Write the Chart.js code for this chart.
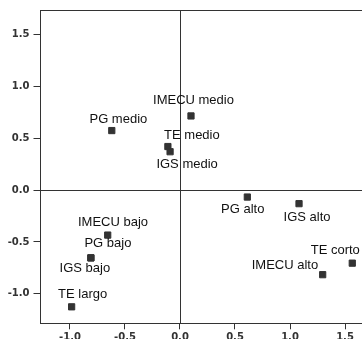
<!DOCTYPE html>
<html>
<head>
<meta charset="utf-8">
<script src="https://cdn.jsdelivr.net/npm/chart.js@4/dist/chart.umd.min.js"></script>
<style>
html,body{margin:0;padding:0;background:#fff;overflow:hidden;}
#wrap{width:400px;height:360px;}
</style>
</head>
<body>
<div id="wrap"><canvas id="c" width="400" height="360"></canvas></div>
<script>
// ---- data ----
const pointLabels = ['IMECU medio','PG medio','TE medio','IGS medio','IMECU bajo','PG bajo','IGS bajo','TE largo','PG alto','IGS alto','TE corto','IMECU alto'];
const dim1 = [0.10,-0.62,-0.11,-0.09,-0.657,-0.81,-0.81,-0.985,0.612,1.082,1.566,1.297];
const dim2 = [0.715,0.574,0.42,0.37,-0.434,-0.654,-0.654,-1.126,-0.067,-0.131,-0.705,-0.816];
const xTickValues = [-1.0,-0.5,0.0,0.5,1.0,1.5];
const yTickValues = [-1.0,-0.5,0.0,0.5,1.0,1.5];

// label placement (pixel offsets from each marker)
const labelDx = [2.5,6.6,24,17,5.3,17,-6,11,-4.6,8,-17,-37.7];
const labelDy = [-16,-11,-11.5,12.5,-12.3,-14,11,-12,12,13.5,-13,-9];

const points = dim1.map((x,i)=>({x:x,y:dim2[i]}));

const framePlugin = {
  id:'frame',
  beforeDatasetsDraw(chart){
    const {ctx, chartArea:a, scales} = chart;
    ctx.save();
    ctx.strokeStyle = '#333';
    ctx.lineWidth = 1;
    const L = Math.round(a.left)+0.5, T = Math.round(a.top)+0.5, R = Math.round(a.right)+0.5, B = Math.round(a.bottom)+0.5;
    ctx.strokeRect(L, T, R-L, B-T);
    const x0 = Math.round(scales.x.getPixelForValue(0))+0.5;
    const y0 = Math.round(scales.y.getPixelForValue(0))+0.5;
    ctx.beginPath();
    ctx.moveTo(x0, T); ctx.lineTo(x0, B);
    ctx.moveTo(L, y0); ctx.lineTo(R, y0);
    ctx.stroke();
    ctx.restore();
  },
  afterDatasetsDraw(chart){
    const {ctx} = chart;
    const meta = chart.getDatasetMeta(0);
    ctx.save();
    ctx.font = '13px "Liberation Sans", Arial, sans-serif';
    ctx.fillStyle = '#111';
    ctx.textAlign = 'center';
    ctx.textBaseline = 'middle';
    meta.data.forEach((el,i)=>{
      ctx.fillText(pointLabels[i], el.x + labelDx[i], el.y + labelDy[i]);
    });
    ctx.restore();
  }
};

const fmt = v => (Math.round(v*10)/10).toFixed(1);

new Chart(document.getElementById('c'), {
  type:'scatter',
  data:{datasets:[{
    data: points,
    pointStyle:'rect',
    pointRadius:4.4,
    pointHoverRadius:4.4,
    backgroundColor:'#333',
    borderColor:'#333',
    borderWidth:1
  }]},
  options:{
    responsive:false,
    animation:false,
    devicePixelRatio:1,
    layout:{padding:{top:7.5,right:27.7,bottom:0,left:0}},
    plugins:{legend:{display:false},tooltip:{enabled:false}},
    scales:{
      x:{
        type:'linear', min:-1.277, max:1.748,
        afterBuildTicks(s){ s.ticks = xTickValues.map(v=>({value:v})); },
        afterFit(s){ s.height = 36.7; },
        border:{display:false},
        grid:{drawOnChartArea:false, drawTicks:true, tickLength:6, color:'#333'},
        ticks:{padding:2.5, color:'#333', font:{family:'"DejaVu Sans"', size:10, weight:'bold'}, callback:(v)=>fmt(v), maxRotation:0, autoSkip:false}
      },
      y:{
        type:'linear', min:-1.285, max:1.737,
        afterBuildTicks(s){ s.ticks = yTickValues.map(v=>({value:v})); },
        afterFit(s){ s.width = 39.5; },
        border:{display:false},
        grid:{drawOnChartArea:false, drawTicks:true, tickLength:6, color:'#333'},
        ticks:{padding:4, color:'#333', font:{family:'"DejaVu Sans"', size:10, weight:'bold'}, callback:(v)=>fmt(v), autoSkip:false}
      }
    }
  },
  plugins:[framePlugin]
});
</script>
</body>
</html>
